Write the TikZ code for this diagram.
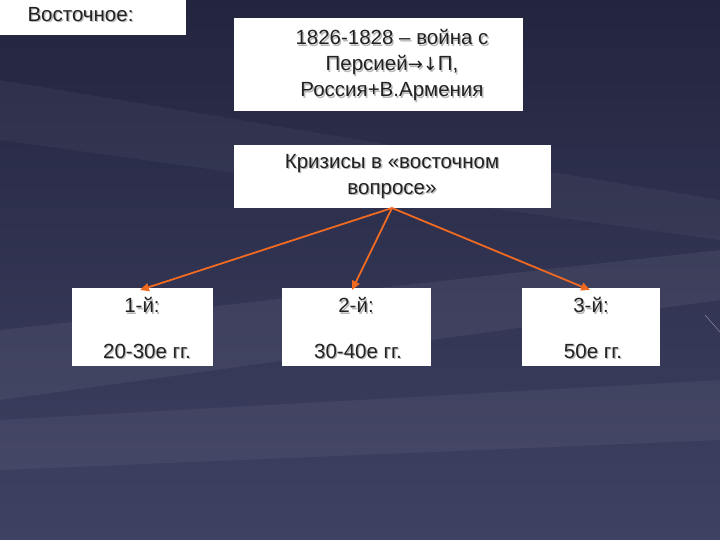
\documentclass[tikz,border=0pt]{standalone}
\usepackage{fontspec}
\setmainfont{Liberation Sans}
\newfontfamily\symf{DejaVu Sans}
\usetikzlibrary{arrows.meta}
\definecolor{bgdark}{HTML}{23253F}
\definecolor{bglight}{HTML}{4A4E72}
\definecolor{arr}{HTML}{F06A22}
\definecolor{txt}{HTML}{222222}
\newcommand{\shtxt}[1]{\makebox[0pt][l]{\hspace{1.3pt}\raisebox{-1.3pt}{\color{black!28}#1}}#1}
\tikzset{
  box/.style={fill=white,draw=none,inner sep=0pt},
  lbl/.style={font=\fontsize{20.5}{26}\selectfont,text=txt,align=center},
  conn/.style={draw=arr,line width=1.8pt,-{Triangle[length=9pt,width=8pt]}}
}
\begin{document}
\begin{tikzpicture}[x=1pt,y=-1pt]
\useasboundingbox (0,0) rectangle (720,540);
\shade[top color=bgdark,bottom color=bglight!70!bgdark] (0,0) rectangle (720,540);
\fill[white,opacity=0.06] (0,330) -- (720,250) -- (720,300) -- (0,400) -- cycle;
\fill[white,opacity=0.05] (0,420) -- (720,380) -- (720,440) -- (0,470) -- cycle;
\fill[white,opacity=0.04] (0,80) -- (720,200) -- (720,240) -- (0,140) -- cycle;
\draw[white,opacity=0.5] (705,315) -- (720,332);
\path[box] (0,0) rectangle (186,35);
\node[lbl,anchor=north west] (t0) at (24,4) {\shtxt{Восточное:}};
\path[box] (234,18) rectangle (523,111);
\node[lbl] (t1) at (392,66) {\shtxt{1826-1828 – война с}\\\shtxt{Персией{\symf\fontsize{18}{20}\selectfont →↓}П,}\\\shtxt{Россия+В.Армения}};
\path[box] (234,145) rectangle (551,208);
\node[lbl] (t2) at (392,177) {\shtxt{Кризисы в «восточном}\\\shtxt{вопросе»}};
\coordinate (src) at (392,208);
\path[box] (72,288) rectangle (213,366);
\path[box] (282,288) rectangle (431,366);
\path[box] (522,288) rectangle (660,366);
\node[lbl] (a1) at (142,306) {\shtxt{1-й:}};
\node[lbl] (b1) at (147,352) {\shtxt{20-30е гг.}};
\node[lbl] (a2) at (356,306) {\shtxt{2-й:}};
\node[lbl] (b2) at (358,352) {\shtxt{30-40е гг.}};
\node[lbl] (a3) at (591,306) {\shtxt{3-й:}};
\node[lbl] (b3) at (593,352) {\shtxt{50е гг.}};
\coordinate (e1) at (140,290);
\coordinate (e2) at (352,290);
\coordinate (e3) at (590,290);
\draw[conn] (src) -- (e1);
\draw[conn] (src) -- (e2);
\draw[conn] (src) -- (e3);
\end{tikzpicture}
\end{document}
